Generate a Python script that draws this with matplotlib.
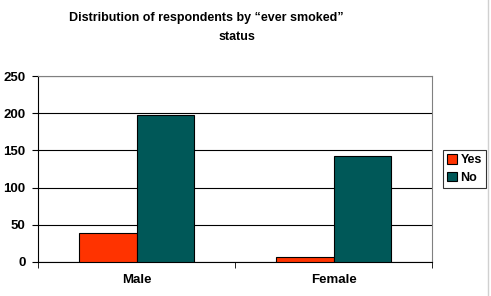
import matplotlib.pyplot as plt
import numpy as np

categories = ['Male', 'Female']
yes_counts = [39, 6]
no_counts = [198, 143]
series_names = ['Yes', 'No']
y_ticks = [0, 50, 100, 150, 200, 250]

plt.rcParams['font.family'] = ['Liberation Sans', 'DejaVu Sans']
plt.rcParams['font.weight'] = 'bold'

fig = plt.figure(figsize=(4.91, 2.96), dpi=100)
ax = fig.add_axes([0.0774, 0.115, 0.8025, 0.628])

x = np.arange(len(categories))
w = 0.29
ax.bar(x - w / 2, yes_counts, w, color='#FF3300', edgecolor='black', linewidth=0.8,
       label=series_names[0], zorder=3)
ax.bar(x + w / 2, no_counts, w, color='#005858', edgecolor='black', linewidth=0.8,
       label=series_names[1], zorder=3)

ax.set_xlim(-0.5, 1.5)
ax.set_ylim(0, 250)
ax.set_yticks(y_ticks)
ax.set_yticklabels([str(t) for t in y_ticks], fontsize=9.5, fontweight='bold')
ax.yaxis.grid(True, color='black', linewidth=0.8, zorder=0)

# category labels in the middle, tick marks on the boundaries
ax.set_xticks(x)
ax.set_xticklabels(categories, fontsize=9.5, fontweight='bold')
ax.tick_params(axis='x', length=0, pad=9)
ax.set_xticks([-0.5, 0.5, 1.5], minor=True)
ax.tick_params(axis='x', which='minor', length=4, color='black')
ax.tick_params(axis='y', length=4, pad=5)

for s in ['left', 'bottom']:
    ax.spines[s].set_color('black')
for s in ['top', 'right']:
    ax.spines[s].set_color('#808080')

leg = fig.legend(loc='upper left', bbox_to_anchor=(443 / 491, 1 - 150 / 296), fontsize=9,
                 frameon=True, fancybox=False, edgecolor='black',
                 handlelength=0.75, handleheight=0.75, handletextpad=0.3,
                 borderpad=0.35, labelspacing=0.45, borderaxespad=0)
for t in leg.get_texts():
    t.set_fontweight('bold')
leg.get_frame().set_linewidth(0.8)

fig.text(206 / 491, 1 - 18 / 296, 'Distribution of respondents by \u201cever smoked\u201d',
         ha='center', va='center', fontsize=9, fontweight='bold')
fig.text(237 / 491, 1 - 37 / 296, 'status', ha='center', va='center',
         fontsize=9, fontweight='bold')

# thin border on the right edge of the image
fig.add_artist(plt.Line2D([488 / 491, 488 / 491], [0.0, 1.0], color='#d0d0d0', linewidth=1))

fig.savefig('out.png', dpi=100)
